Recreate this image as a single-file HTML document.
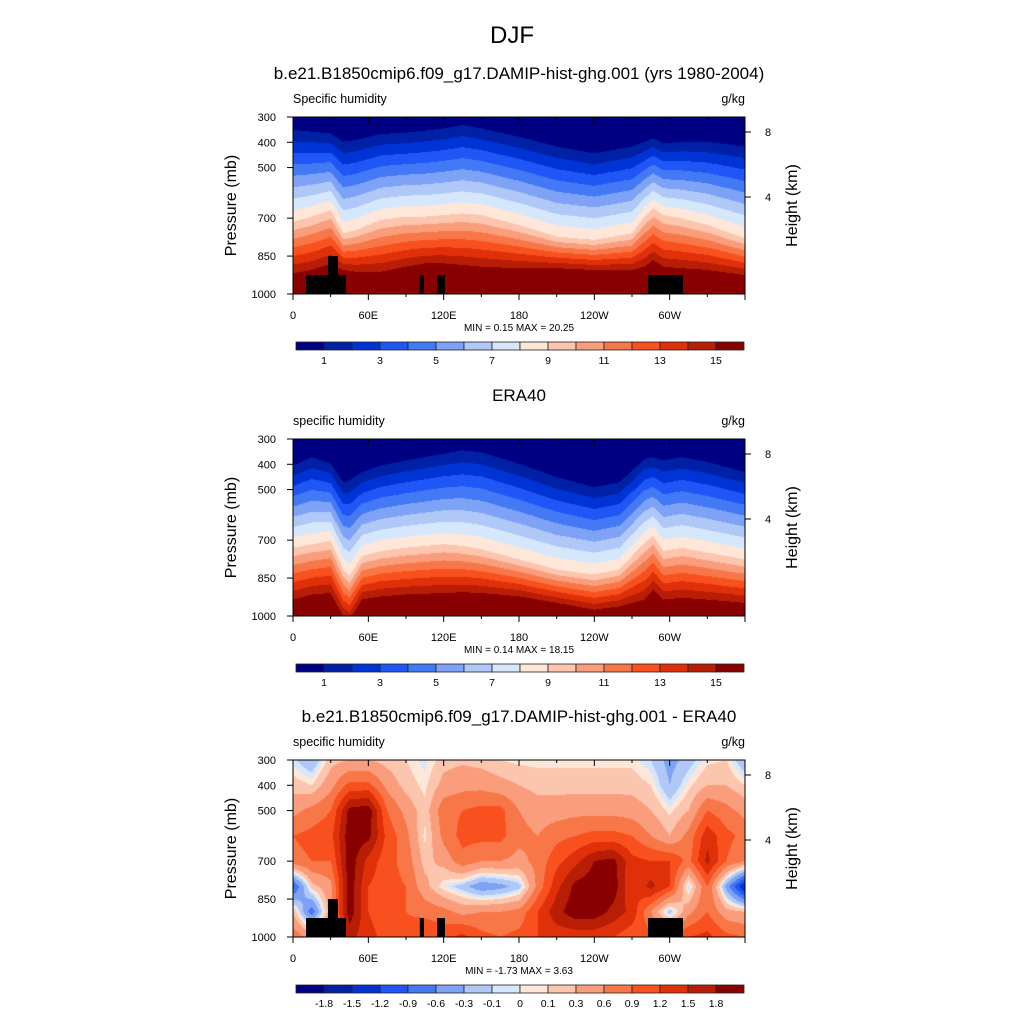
<!DOCTYPE html>
<html><head><meta charset="utf-8">
<style>
body{margin:0;background:#fff;}
#root{position:relative;width:1024px;height:1024px;background:#fff;font-family:"Liberation Sans",sans-serif;color:#000;overflow:hidden;}
.t{position:absolute;white-space:nowrap;}
canvas{position:absolute;}
</style></head>
<body>
<div id="root">
<div class="t" style="left:0;width:1024px;text-align:center;top:22px;font-size:24px;">DJF</div>
<svg id="svg" width="1024" height="1024" style="position:absolute;left:0;top:0;"></svg>
</div>
<script>
// ---- data ----
const colors=['#000082','#0021A6','#0033D6','#1F56F5','#4479F5','#7EA2F5','#B0C8F7','#D6E7FB','#FEE7D9','#FCC5AD','#FA9D7C','#F87748','#F8511F','#E0300A','#B81E05','#880000'];
const qLevels=[1,2,3,4,5,6,7,8,9,10,11,12,13,14,15];
const qTicks=['1','3','5','7','9','11','13','15'];
const dLevels=[-1.8,-1.5,-1.2,-0.9,-0.6,-0.3,-0.1,0,0.1,0.3,0.6,0.9,1.2,1.5,1.8];
const dTicks=['-1.8','-1.5','-1.2','-0.9','-0.6','-0.3','-0.1','0','0.1','0.3','0.6','0.9','1.2','1.5','1.8'];
const xTickLabels=['0','60E','120E','180','120W','60W'];
const xTickLons=[0,60,120,180,240,300];
const yTicks=[300,400,500,700,850,1000];
const hTicks=[8,4];
// model humidity: pressure (hPa) of the 1, 9, 15 g/kg contours per longitude
const m_lons=[0,15,30,40,50,70,90,105,120,135,150,180,210,240,270,280,287,295,310,330,360];
const m_p1=[351,358,365,398,391,367,362,354,345,332,345,378,417,444,417,398,384,404,398,398,417];
const m_p9=[714,694,668,760,747,707,694,694,688,681,688,727,773,786,760,694,661,688,701,727,780];
const m_p15=[918,905,879,905,912,912,892,879,879,885,892,898,898,905,905,892,866,892,898,905,925];
// ERA40 humidity
const e_lons=[0,15,30,40,45,55,70,90,120,135,150,180,210,240,260,280,287,295,310,330,360];
const e_p1=[405,372,398,471,464,431,405,385,358,345,352,398,451,491,471,379,372,385,372,391,431];
const e_p9=[730,716,703,816,842,763,743,730,716,723,736,776,816,836,816,710,683,743,730,749,776];
const e_p15=[935,915,909,1000,1015,935,922,915,909,906,909,922,948,975,962,935,895,935,928,935,948];
// difference field grid
const d_lons=[0,15,30,45,60,75,90,105,120,135,150,165,180,195,210,225,240,255,270,285,300,315,330,345,360];
const d_levs=[300,400,500,600,700,800,900,1000];
const d_vals=[
[-0.05,0.2,0.5,0.9,0.8,-1.0,0.3,0.8],
[-0.3,0.1,0.7,1.0,0.9,0.2,-0.8,0.5],
[0.2,0.5,0.9,1.1,0.9,0.5,0.5,0.8],
[0.3,1.0,1.9,2,2,2,2,1.6],
[0.3,1.0,2,1.9,1.4,1.2,1.2,1.3],
[0.2,0.5,0.9,1.1,1.0,1.0,1.0,1.1],
[0.1,0.2,0.5,0.7,0.8,0.9,0.9,1.0],
[-0.05,0.05,0.15,0.05,0.2,0.4,0.8,1.2],
[0.2,0.4,0.8,0.7,0.4,0.0,0.7,1.1],
[0.25,0.5,0.9,1.0,0.8,-0.2,0.5,1.3],
[0.2,0.5,1.0,1.0,0.6,-0.5,0.6,1.0],
[0.1,0.4,1.0,1.0,0.6,-0.4,0.6,0.9],
[0.05,0.3,0.6,0.7,0.5,-0.2,0.7,1.0],
[0.05,0.2,0.45,0.6,0.7,0.7,1.2,1.2],
[0.05,0.2,0.45,0.8,1.1,1.4,1.7,1.3],
[0.05,0.2,0.5,0.9,1.4,1.9,2,1.3],
[0.05,0.2,0.5,1.0,1.8,2,2,1.3],
[0.05,0.2,0.5,1.0,1.9,2,1.7,1.2],
[0.05,0.2,0.45,0.9,1.3,1.2,1.4,1.0],
[-0.1,0.1,0.3,0.6,1.2,1.6,0.6,1.0],
[-0.4,-0.3,0.05,0.3,1.2,1.2,-0.2,1.0],
[-0.2,0.05,0.3,0.7,0.8,-0.1,0.5,1.2],
[0.05,0.3,0.9,1.4,1.6,0.9,0.9,1.3],
[0.1,0.3,0.7,1.0,0.9,-0.4,0.4,1.0],
[-0.3,0.1,0.5,0.8,0.6,-1.6,0.3,0.9]];
// topography blocks: [lonStart, lonEnd, topPressure]
const landW=[10.4,27.9,101,114.7,282.7];
const landE=[42.2,35.8,104.3,121,310.6];
const landTop=[925,850,925,925,925];

// ---- layout ----
const X0=293,X1=745,PW=X1-X0,PH=177;
const panels=[
 {top:117,title:'b.e21.B1850cmip6.f09_g17.DAMIP-hist-ghg.001 (yrs 1980-2004)',left:'Specific humidity',minmax:'MIN =   0.15  MAX =  20.25',kind:'m',land:true},
 {top:439,title:'ERA40',left:'specific humidity',minmax:'MIN =   0.14  MAX =  18.15',kind:'e',land:false},
 {top:760,title:'b.e21.B1850cmip6.f09_g17.DAMIP-hist-ghg.001 - ERA40',left:'specific humidity',minmax:'MIN =  -1.73  MAX =   3.63',kind:'d',land:true}];
const xOf=lon=>X0+lon/360*PW;
const yOf=(p,top)=>top+(p-300)/700*PH;
const root=document.getElementById('root');
const svg=document.getElementById('svg');
const NS='http://www.w3.org/2000/svg';
function el(tag,attrs,parent){const e=document.createElementNS(NS,tag);for(const k in attrs)e.setAttribute(k,attrs[k]);(parent||svg).appendChild(e);return e;}
function txt(s,x,y,size,anchor,name,extra){const e=el('text',Object.assign({x:x,y:y,'font-size':size,'text-anchor':anchor||'start','font-family':'Liberation Sans, sans-serif',fill:'#000'},extra||{}));e.textContent=s;


return e;}
function interp(xs,ys,x){if(x<=xs[0])return ys[0];for(let i=1;i<xs.length;i++){if(x<=xs[i]){const t=(x-xs[i-1])/(xs[i]-xs[i-1]);return ys[i-1]+t*(ys[i]-ys[i-1]);}}return ys[ys.length-1];}
function profile(p,b1,b9,b15){
 const k1=(b9-b1)/8,k2=(b15-b9)/6;
 const v0=Math.max(0.1,1-(b1-300)/k1);
 const ps=[300,b1,b9,b15],vs=[v0,1,9,15];
 if(b15<1000){ps.push(1000);vs.push(15+(1000-b15)/k2);}
 return interp(ps,vs,p);
}
function bin(v,levels){let i=0;while(i<levels.length&&v>=levels[i])i++;return i;}
function hex(c){return [parseInt(c.substr(1,2),16),parseInt(c.substr(3,2),16),parseInt(c.substr(5,2),16)];}
const rgb=colors.map(hex);

panels.forEach((P,pi)=>{
 const top=P.top;
 const cv=document.createElement('canvas');cv.width=PW;cv.height=PH;cv.style.left=X0+'px';cv.style.top=top+'px';
 
 
 root.insertBefore(cv,svg);
 const ctx=cv.getContext('2d');const img=ctx.createImageData(PW,PH);
 for(let i=0;i<PW;i++){
  const lon=(i+0.5)/PW*360;
  let b1,b9,b15,col=null;
  if(P.kind==='m'){b1=interp(m_lons,m_p1,lon);b9=interp(m_lons,m_p9,lon);b15=interp(m_lons,m_p15,lon);}
  else if(P.kind==='e'){b1=interp(e_lons,e_p1,lon);b9=interp(e_lons,e_p9,lon);b15=interp(e_lons,e_p15,lon);}
  else{let j=Math.min(d_lons.length-2,Math.floor(lon/15));const t=(lon-d_lons[j])/(d_lons[j+1]-d_lons[j]);col=d_levs.map((_,k)=>d_vals[j][k]*(1-t)+d_vals[j+1][k]*t);}
  for(let r=0;r<PH;r++){
   const p=300+(r+0.5)/PH*700;let b;
   if(P.kind==='d')b=bin(interp(d_levs,col,p),dLevels);else b=bin(profile(p,b1,b9,b15),qLevels);
   const c=rgb[b];const o=(r*PW+i)*4;img.data[o]=c[0];img.data[o+1]=c[1];img.data[o+2]=c[2];img.data[o+3]=255;
  }
 }
 ctx.putImageData(img,0,0);
 if(P.land){for(let k=0;k<landW.length;k++){const x=xOf(landW[k]),y=yOf(landTop[k],top);
  const r=el('rect',{x:x,y:y,width:xOf(landE[k])-x,height:top+PH-y,fill:'#000'});
  
  }}
 const fr=el('rect',{x:X0,y:top,width:PW,height:PH,fill:'none',stroke:'#000','stroke-width':1});
 
 
 txt(P.title,519,top-(pi===0?38:38),17,'middle','panel-title');
 txt(P.left,293,top-14,12.5,'start','variable-label');
 txt('g/kg',745,top-14,12.5,'end','units-label');
 for(let lon=0;lon<=360;lon+=30){const x=xOf(lon);const major=lon%60===0;
  el('line',{x1:x,y1:top+PH,x2:x,y2:top+PH+(major?6:3),stroke:'#000'});
  el('line',{x1:x,y1:top,x2:x,y2:top+(major?6:3),stroke:'#000'});}
 xTickLons.forEach((lon,k)=>txt(xTickLabels[k],xOf(lon),top+PH+25,11,'middle','x-tick-label'));
 yTicks.forEach(p=>{const y=yOf(p,top);el('line',{x1:X0-6,y1:y,x2:X0,y2:y,stroke:'#000'});txt(String(p),276,y+4,11,'end','y-tick-label');});
 hTicks.forEach((h,k)=>{const y=top+(k===0?15:80);el('line',{x1:X1,y1:y,x2:X1+6,y2:y,stroke:'#000'});txt(String(h),765,y+4,11,'start','height-tick-label');});
 txt('Pressure (mb)',236,top+PH/2,16,'middle','y-axis-title',{transform:'rotate(-90 236 '+(top+PH/2)+')'});
 txt('Height (km)',797,top+PH/2,16,'middle','right-axis-title',{transform:'rotate(-90 797 '+(top+PH/2)+')'});
 txt(P.minmax,519,top+PH+37,10,'middle','min-max-label');
 const cy=top+225,cw=28,cx0=296;
 for(let k=0;k<16;k++){const r=el('rect',{x:cx0+k*cw,y:cy,width:cw,height:8,fill:colors[k],stroke:'#222','stroke-width':0.8});
  
  }
 if(P.kind==='d'){dTicks.forEach((s,k)=>txt(s,cx0+(k+1)*cw,cy+22,10.5,'middle','colorbar-label'));}
 else{qTicks.forEach((s,k)=>txt(s,cx0+(2*k+1)*cw,cy+22,10.5,'middle','colorbar-label'));}
});
</script>
</body></html>
